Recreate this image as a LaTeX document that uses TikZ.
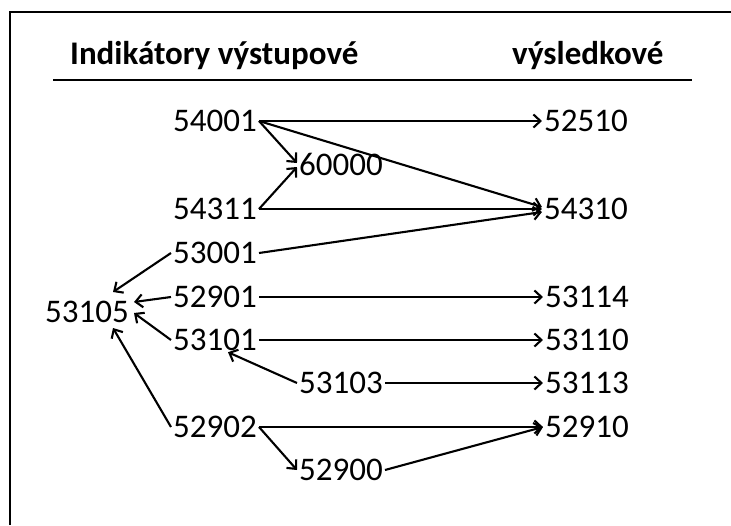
\documentclass[tikz,border=0pt]{standalone}
\usepackage{fontspec}
\setmainfont{Carlito}
\usetikzlibrary{arrows.meta,calc}
\begin{document}
\begin{tikzpicture}[x=1pt,y=-1pt,
  num/.style={font=\fontsize{33}{36}\selectfont, inner sep=2pt, text height=20pt, text depth=0pt},
  hdr/.style={font=\fontsize{33}{36}\selectfont\bfseries, inner sep=0pt, anchor=base west},
  arr/.style={line width=2.1pt, -{Straight Barb[length=7pt,width=13pt]}},
  frame/.style={line width=2.4pt}]
\useasboundingbox (0,0) rectangle (731,525);
\draw[frame] (10,525) -- (10,12) -- (731,12);
\node[hdr] (h1) at (70,64) {Indikátory výstupové};
\node[hdr] (h2) at (512,64) {výsledkové};
\coordinate (ul) at (53,80);
\coordinate (ur) at (692,80);
\draw[line width=2.8pt] (ul) -- (ur);
% nodes
\node[num] (a54001) at (215,121) {54001};
\node[num] (a52510) at (586,121) {52510};
\node[num] (a60000) at (341,165) {60000};
\node[num] (a54311) at (215,209) {54311};
\node[num] (a54310) at (586,209) {54310};
\node[num] (a53001) at (215,253) {53001};
\node[num] (a53105) at (87,312) {53105};
\node[num] (a52901) at (215,297) {52901};
\node[num] (a53114) at (587,297) {53114};
\node[num] (a53101) at (215,340) {53101};
\node[num] (a53110) at (587,340) {53110};
\node[num] (a53103) at (341,383) {53103};
\node[num] (a53113) at (587,383) {53113};
\node[num] (a52902) at (215,427) {52902};
\node[num] (a52910) at (587,427) {52910};
\node[num] (a52900) at (341,470) {52900};
% arrows
\draw[arr] (a54001.east) -- (a52510.west);
\draw[arr] (a54001.east) -- ($(a60000.west)+(0,-2)$);
\draw[arr] (a54001.east) -- ($(a54310.west)+(0,-2)$);
\draw[arr] (a54311.east) -- ($(a60000.west)+(0,2)$);
\draw[arr] (a54311.east) -- (a54310.west);
\draw[arr] (a53001.east) -- ($(a54310.west)+(0,3)$);
\draw[arr] (a53001.west) -- ($(a53105.center)+(26,-20)$);
\draw[arr] (a52901.west) -- ($(a53105.east)+(3,-10)$);
\draw[arr] (a53101.west) -- ($(a53105.east)+(3,1)$);
\draw[arr] (a52902.west) -- ($(a53105.center)+(26,16)$);
\draw[arr] (a52901.east) -- (a53114.west);
\draw[arr] (a53101.east) -- (a53110.west);
\draw[arr] (a53103.west) -- ($(a53101.south)+(13,0)$);
\draw[arr] (a53103.east) -- (a53113.west);
\draw[arr] (a52902.east) -- (a52910.west);
\draw[arr] (a52902.east) -- (a52900.west);
\draw[arr] (a52900.east) -- (a52910.west);
\end{tikzpicture}
\end{document}
